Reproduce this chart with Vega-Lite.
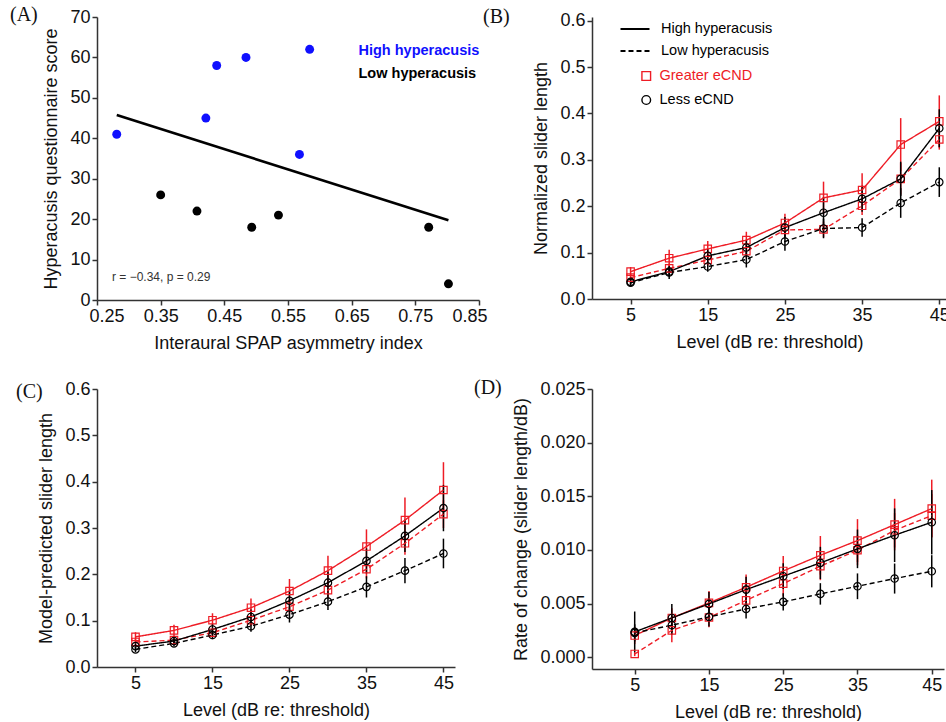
{
"$schema": "https://vega.github.io/schema/vega-lite/v6.json",
"padding": {"left": 10, "top": 5, "right": 0, "bottom": 0},
"background": "white",
"config": {
  "view": {"stroke": null},
  "font": "Liberation Sans",
  "axis": {"labelFont": "Liberation Sans", "titleFont": "Liberation Sans", "labelFontSize": 18, "titleFontSize": 18, "titleFontWeight": "normal", "labelColor": "#111", "titleColor": "#111", "domainColor": "#333", "tickColor": "#333", "domainWidth": 1.5, "tickWidth": 1.5, "tickSize": 5, "grid": false, "labelPadding": 2, "titlePadding": 9},
  "title": {"font": "Liberation Serif", "fontSize": 20, "fontWeight": "normal", "anchor": "start", "frame": "group", "color": "#111"},
  "legend": {"labelFont": "Liberation Sans", "labelFontSize": 14.5, "padding": 0, "title": null}
},
"datasets": {
  "scatter": [
    {"x": 0.281, "y": 41, "grp": "High hyperacusis"},
    {"x": 0.421, "y": 45, "grp": "High hyperacusis"},
    {"x": 0.438, "y": 58, "grp": "High hyperacusis"},
    {"x": 0.484, "y": 60, "grp": "High hyperacusis"},
    {"x": 0.584, "y": 62, "grp": "High hyperacusis"},
    {"x": 0.568, "y": 36, "grp": "High hyperacusis"},
    {"x": 0.350, "y": 26, "grp": "Low hyperacusis"},
    {"x": 0.407, "y": 22, "grp": "Low hyperacusis"},
    {"x": 0.493, "y": 18, "grp": "Low hyperacusis"},
    {"x": 0.535, "y": 21, "grp": "Low hyperacusis"},
    {"x": 0.771, "y": 18, "grp": "Low hyperacusis"},
    {"x": 0.802, "y": 4, "grp": "Low hyperacusis"}
  ],
  "note": [
    {"t": "r = −0.34, p = 0.29"}
  ],
  "curves": [
    {"p":"B","L":5,"h":"High hyperacusis","g":"Greater eCND","v":0.059,"lo":0.049,"hi":0.069},
    {"p":"B","L":10,"h":"High hyperacusis","g":"Greater eCND","v":0.088,"lo":0.070,"hi":0.106},
    {"p":"B","L":15,"h":"High hyperacusis","g":"Greater eCND","v":0.108,"lo":0.091,"hi":0.125},
    {"p":"B","L":20,"h":"High hyperacusis","g":"Greater eCND","v":0.127,"lo":0.109,"hi":0.145},
    {"p":"B","L":25,"h":"High hyperacusis","g":"Greater eCND","v":0.164,"lo":0.144,"hi":0.184},
    {"p":"B","L":30,"h":"High hyperacusis","g":"Greater eCND","v":0.218,"lo":0.183,"hi":0.253},
    {"p":"B","L":35,"h":"High hyperacusis","g":"Greater eCND","v":0.235,"lo":0.199,"hi":0.271},
    {"p":"B","L":40,"h":"High hyperacusis","g":"Greater eCND","v":0.333,"lo":0.276,"hi":0.390},
    {"p":"B","L":45,"h":"High hyperacusis","g":"Greater eCND","v":0.383,"lo":0.327,"hi":0.439},
    {"p":"B","L":5,"h":"Low hyperacusis","g":"Greater eCND","v":0.046,"lo":0.038,"hi":0.054},
    {"p":"B","L":10,"h":"Low hyperacusis","g":"Greater eCND","v":0.066,"lo":0.056,"hi":0.076},
    {"p":"B","L":15,"h":"Low hyperacusis","g":"Greater eCND","v":0.084,"lo":0.072,"hi":0.096},
    {"p":"B","L":20,"h":"Low hyperacusis","g":"Greater eCND","v":0.103,"lo":0.089,"hi":0.117},
    {"p":"B","L":25,"h":"Low hyperacusis","g":"Greater eCND","v":0.149,"lo":0.134,"hi":0.164},
    {"p":"B","L":30,"h":"Low hyperacusis","g":"Greater eCND","v":0.150,"lo":0.133,"hi":0.167},
    {"p":"B","L":35,"h":"Low hyperacusis","g":"Greater eCND","v":0.201,"lo":0.181,"hi":0.221},
    {"p":"B","L":40,"h":"Low hyperacusis","g":"Greater eCND","v":0.259,"lo":0.225,"hi":0.293},
    {"p":"B","L":45,"h":"Low hyperacusis","g":"Greater eCND","v":0.344,"lo":0.322,"hi":0.366},
    {"p":"B","L":5,"h":"High hyperacusis","g":"Less eCND","v":0.037,"lo":0.031,"hi":0.043},
    {"p":"B","L":10,"h":"High hyperacusis","g":"Less eCND","v":0.059,"lo":0.049,"hi":0.069},
    {"p":"B","L":15,"h":"High hyperacusis","g":"Less eCND","v":0.093,"lo":0.078,"hi":0.108},
    {"p":"B","L":20,"h":"High hyperacusis","g":"Less eCND","v":0.111,"lo":0.095,"hi":0.127},
    {"p":"B","L":25,"h":"High hyperacusis","g":"Less eCND","v":0.154,"lo":0.131,"hi":0.177},
    {"p":"B","L":30,"h":"High hyperacusis","g":"Less eCND","v":0.186,"lo":0.152,"hi":0.220},
    {"p":"B","L":35,"h":"High hyperacusis","g":"Less eCND","v":0.216,"lo":0.188,"hi":0.244},
    {"p":"B","L":40,"h":"High hyperacusis","g":"Less eCND","v":0.259,"lo":0.222,"hi":0.296},
    {"p":"B","L":45,"h":"High hyperacusis","g":"Less eCND","v":0.368,"lo":0.327,"hi":0.409},
    {"p":"B","L":5,"h":"Low hyperacusis","g":"Less eCND","v":0.035,"lo":0.030,"hi":0.040},
    {"p":"B","L":10,"h":"Low hyperacusis","g":"Less eCND","v":0.057,"lo":0.043,"hi":0.071},
    {"p":"B","L":15,"h":"Low hyperacusis","g":"Less eCND","v":0.070,"lo":0.059,"hi":0.081},
    {"p":"B","L":20,"h":"Low hyperacusis","g":"Less eCND","v":0.085,"lo":0.068,"hi":0.102},
    {"p":"B","L":25,"h":"Low hyperacusis","g":"Less eCND","v":0.124,"lo":0.104,"hi":0.144},
    {"p":"B","L":30,"h":"Low hyperacusis","g":"Less eCND","v":0.152,"lo":0.131,"hi":0.173},
    {"p":"B","L":35,"h":"Low hyperacusis","g":"Less eCND","v":0.154,"lo":0.134,"hi":0.174},
    {"p":"B","L":40,"h":"Low hyperacusis","g":"Less eCND","v":0.207,"lo":0.175,"hi":0.239},
    {"p":"B","L":45,"h":"Low hyperacusis","g":"Less eCND","v":0.252,"lo":0.220,"hi":0.284},

    {"p":"C","L":5,"h":"High hyperacusis","g":"Greater eCND","v":0.065,"lo":0.055,"hi":0.075},
    {"p":"C","L":10,"h":"High hyperacusis","g":"Greater eCND","v":0.079,"lo":0.067,"hi":0.091},
    {"p":"C","L":15,"h":"High hyperacusis","g":"Greater eCND","v":0.101,"lo":0.086,"hi":0.116},
    {"p":"C","L":20,"h":"High hyperacusis","g":"Greater eCND","v":0.128,"lo":0.108,"hi":0.148},
    {"p":"C","L":25,"h":"High hyperacusis","g":"Greater eCND","v":0.164,"lo":0.138,"hi":0.190},
    {"p":"C","L":30,"h":"High hyperacusis","g":"Greater eCND","v":0.208,"lo":0.176,"hi":0.240},
    {"p":"C","L":35,"h":"High hyperacusis","g":"Greater eCND","v":0.260,"lo":0.223,"hi":0.297},
    {"p":"C","L":40,"h":"High hyperacusis","g":"Greater eCND","v":0.317,"lo":0.268,"hi":0.366},
    {"p":"C","L":45,"h":"High hyperacusis","g":"Greater eCND","v":0.382,"lo":0.322,"hi":0.442},
    {"p":"C","L":5,"h":"Low hyperacusis","g":"Greater eCND","v":0.054,"lo":0.047,"hi":0.061},
    {"p":"C","L":10,"h":"Low hyperacusis","g":"Greater eCND","v":0.058,"lo":0.050,"hi":0.066},
    {"p":"C","L":15,"h":"Low hyperacusis","g":"Greater eCND","v":0.074,"lo":0.064,"hi":0.084},
    {"p":"C","L":20,"h":"Low hyperacusis","g":"Greater eCND","v":0.101,"lo":0.088,"hi":0.114},
    {"p":"C","L":25,"h":"Low hyperacusis","g":"Greater eCND","v":0.130,"lo":0.114,"hi":0.146},
    {"p":"C","L":30,"h":"Low hyperacusis","g":"Greater eCND","v":0.166,"lo":0.148,"hi":0.184},
    {"p":"C","L":35,"h":"Low hyperacusis","g":"Greater eCND","v":0.211,"lo":0.191,"hi":0.231},
    {"p":"C","L":40,"h":"Low hyperacusis","g":"Greater eCND","v":0.267,"lo":0.242,"hi":0.292},
    {"p":"C","L":45,"h":"Low hyperacusis","g":"Greater eCND","v":0.330,"lo":0.300,"hi":0.360},
    {"p":"C","L":5,"h":"High hyperacusis","g":"Less eCND","v":0.045,"lo":0.039,"hi":0.051},
    {"p":"C","L":10,"h":"High hyperacusis","g":"Less eCND","v":0.056,"lo":0.048,"hi":0.064},
    {"p":"C","L":15,"h":"High hyperacusis","g":"Less eCND","v":0.081,"lo":0.069,"hi":0.093},
    {"p":"C","L":20,"h":"High hyperacusis","g":"Less eCND","v":0.108,"lo":0.092,"hi":0.124},
    {"p":"C","L":25,"h":"High hyperacusis","g":"Less eCND","v":0.143,"lo":0.123,"hi":0.163},
    {"p":"C","L":30,"h":"High hyperacusis","g":"Less eCND","v":0.182,"lo":0.158,"hi":0.206},
    {"p":"C","L":35,"h":"High hyperacusis","g":"Less eCND","v":0.229,"lo":0.202,"hi":0.256},
    {"p":"C","L":40,"h":"High hyperacusis","g":"Less eCND","v":0.283,"lo":0.248,"hi":0.318},
    {"p":"C","L":45,"h":"High hyperacusis","g":"Less eCND","v":0.343,"lo":0.293,"hi":0.393},
    {"p":"C","L":5,"h":"Low hyperacusis","g":"Less eCND","v":0.038,"lo":0.032,"hi":0.044},
    {"p":"C","L":10,"h":"Low hyperacusis","g":"Less eCND","v":0.051,"lo":0.044,"hi":0.058},
    {"p":"C","L":15,"h":"Low hyperacusis","g":"Less eCND","v":0.069,"lo":0.060,"hi":0.078},
    {"p":"C","L":20,"h":"Low hyperacusis","g":"Less eCND","v":0.088,"lo":0.076,"hi":0.100},
    {"p":"C","L":25,"h":"Low hyperacusis","g":"Less eCND","v":0.113,"lo":0.096,"hi":0.130},
    {"p":"C","L":30,"h":"Low hyperacusis","g":"Less eCND","v":0.141,"lo":0.123,"hi":0.159},
    {"p":"C","L":35,"h":"Low hyperacusis","g":"Less eCND","v":0.173,"lo":0.150,"hi":0.196},
    {"p":"C","L":40,"h":"Low hyperacusis","g":"Less eCND","v":0.208,"lo":0.181,"hi":0.235},
    {"p":"C","L":45,"h":"Low hyperacusis","g":"Less eCND","v":0.245,"lo":0.213,"hi":0.277},

    {"p":"D","L":5,"h":"High hyperacusis","g":"Greater eCND","v":0.00202,"lo":0.00122,"hi":0.00282},
    {"p":"D","L":10,"h":"High hyperacusis","g":"Greater eCND","v":0.00366,"lo":0.00276,"hi":0.00456},
    {"p":"D","L":15,"h":"High hyperacusis","g":"Greater eCND","v":0.00506,"lo":0.00396,"hi":0.00616},
    {"p":"D","L":20,"h":"High hyperacusis","g":"Greater eCND","v":0.00652,"lo":0.00532,"hi":0.00772},
    {"p":"D","L":25,"h":"High hyperacusis","g":"Greater eCND","v":0.00804,"lo":0.00664,"hi":0.00944},
    {"p":"D","L":30,"h":"High hyperacusis","g":"Greater eCND","v":0.0095,"lo":0.0077,"hi":0.0113},
    {"p":"D","L":35,"h":"High hyperacusis","g":"Greater eCND","v":0.01087,"lo":0.00887,"hi":0.01287},
    {"p":"D","L":40,"h":"High hyperacusis","g":"Greater eCND","v":0.01236,"lo":0.00996,"hi":0.01476},
    {"p":"D","L":45,"h":"High hyperacusis","g":"Greater eCND","v":0.01385,"lo":0.01115,"hi":0.01655},
    {"p":"D","L":5,"h":"Low hyperacusis","g":"Greater eCND","v":0.0003,"lo":0.0001,"hi":0.0005},
    {"p":"D","L":10,"h":"Low hyperacusis","g":"Greater eCND","v":0.0025,"lo":0.0014,"hi":0.0036},
    {"p":"D","L":15,"h":"Low hyperacusis","g":"Greater eCND","v":0.0037,"lo":0.0028,"hi":0.0046},
    {"p":"D","L":20,"h":"Low hyperacusis","g":"Greater eCND","v":0.0053,"lo":0.0043,"hi":0.0063},
    {"p":"D","L":25,"h":"Low hyperacusis","g":"Greater eCND","v":0.00686,"lo":0.00566,"hi":0.00806},
    {"p":"D","L":30,"h":"Low hyperacusis","g":"Greater eCND","v":0.00848,"lo":0.00718,"hi":0.00978},
    {"p":"D","L":35,"h":"Low hyperacusis","g":"Greater eCND","v":0.00997,"lo":0.00857,"hi":0.01137},
    {"p":"D","L":40,"h":"Low hyperacusis","g":"Greater eCND","v":0.01183,"lo":0.01023,"hi":0.01343},
    {"p":"D","L":45,"h":"Low hyperacusis","g":"Greater eCND","v":0.0132,"lo":0.0112,"hi":0.0152},
    {"p":"D","L":5,"h":"High hyperacusis","g":"Less eCND","v":0.00236,"lo":0.00046,"hi":0.00426},
    {"p":"D","L":10,"h":"High hyperacusis","g":"Less eCND","v":0.00366,"lo":0.00236,"hi":0.00496},
    {"p":"D","L":15,"h":"High hyperacusis","g":"Less eCND","v":0.00497,"lo":0.00387,"hi":0.00607},
    {"p":"D","L":20,"h":"High hyperacusis","g":"Less eCND","v":0.0063,"lo":0.0051,"hi":0.0075},
    {"p":"D","L":25,"h":"High hyperacusis","g":"Less eCND","v":0.00755,"lo":0.00635,"hi":0.00875},
    {"p":"D","L":30,"h":"High hyperacusis","g":"Less eCND","v":0.00879,"lo":0.00729,"hi":0.01029},
    {"p":"D","L":35,"h":"High hyperacusis","g":"Less eCND","v":0.0101,"lo":0.0083,"hi":0.0119},
    {"p":"D","L":40,"h":"High hyperacusis","g":"Less eCND","v":0.01137,"lo":0.00887,"hi":0.01387},
    {"p":"D","L":45,"h":"High hyperacusis","g":"Less eCND","v":0.01258,"lo":0.00958,"hi":0.01558},
    {"p":"D","L":5,"h":"Low hyperacusis","g":"Less eCND","v":0.00227,"lo":0.00147,"hi":0.00307},
    {"p":"D","L":10,"h":"Low hyperacusis","g":"Less eCND","v":0.00298,"lo":0.00208,"hi":0.00388},
    {"p":"D","L":15,"h":"Low hyperacusis","g":"Less eCND","v":0.00376,"lo":0.00286,"hi":0.00466},
    {"p":"D","L":20,"h":"Low hyperacusis","g":"Less eCND","v":0.0045,"lo":0.0036,"hi":0.0054},
    {"p":"D","L":25,"h":"Low hyperacusis","g":"Less eCND","v":0.00516,"lo":0.00436,"hi":0.00596},
    {"p":"D","L":30,"h":"Low hyperacusis","g":"Less eCND","v":0.0059,"lo":0.0049,"hi":0.0069},
    {"p":"D","L":35,"h":"Low hyperacusis","g":"Less eCND","v":0.00661,"lo":0.00541,"hi":0.00781},
    {"p":"D","L":40,"h":"Low hyperacusis","g":"Less eCND","v":0.00733,"lo":0.00593,"hi":0.00873},
    {"p":"D","L":45,"h":"Low hyperacusis","g":"Less eCND","v":0.00801,"lo":0.00651,"hi":0.00951}
  ]
},
"columns": 2,
"bounds": "flush",
"spacing": {"row": 89, "column": 113},
"resolve": {"scale": {"color": "independent", "stroke": "independent", "shape": "independent", "strokeDash": "independent"}, "legend": {"color": "independent", "stroke": "independent", "shape": "independent", "strokeDash": "independent"}},
"concat": [
  {
    "width": 382, "height": 283,
    "title": {"text": "(A)", "dx": -87, "dy": 21},
    "layer": [
      {
        "data": {"name": "scatter"},
        "mark": {"type": "line", "color": "black", "strokeWidth": 2.6},
        "transform": [{"regression": "y", "on": "x"}],
        "encoding": {
          "x": {"field": "x", "type": "quantitative"},
          "y": {"field": "y", "type": "quantitative"}
        }
      },
      {
        "data": {"name": "scatter"},
        "mark": {"type": "point", "filled": true, "size": 80, "opacity": 1},
        "encoding": {
          "x": {"field": "x", "type": "quantitative", "title": "Interaural SPAP asymmetry index", "scale": {"domain": [0.25, 0.85], "nice": false, "zero": false}, "axis": {"values": [0.25, 0.35, 0.45, 0.55, 0.65, 0.75, 0.85], "format": ".2f", "labelFlushOffset": 8}},
          "y": {"field": "y", "type": "quantitative", "title": "Hyperacusis questionnaire score", "scale": {"domain": [0, 70], "nice": false}, "axis": {"values": [0, 10, 20, 30, 40, 50, 60, 70]}},
          "color": {"field": "grp", "type": "nominal", "scale": {"domain": ["High hyperacusis", "Low hyperacusis"], "range": ["#1010ff", "#000000"]},
            "legend": {"orient": "none", "legendX": 247, "legendY": 27, "symbolSize": 0, "symbolOpacity": 0, "symbolStrokeWidth": 0, "labelOffset": 0, "labelFontWeight": "bold", "labelFontSize": 14.5, "rowPadding": 8, "labelColor": {"expr": "datum.label === 'High hyperacusis' ? '#1010ff' : '#000000'"}}}
        }
      },
      {
        "data": {"name": "note"},
        "mark": {"type": "text", "align": "left", "baseline": "middle", "fontSize": 12, "fontWeight": "normal", "color": "#333"},
        "encoding": {
          "x": {"datum": 0.2735},
          "y": {"datum": 5.8},
          "text": {"field": "t"}
        }
      }
    ]
  },
  {
    "width": 355, "height": 282,
    "title": {"text": "(B)", "dx": -109, "dy": 19},
    "data": {"name": "curves"},
    "transform": [{"filter": "datum.p === 'B'"}],
    "encoding": {
      "x": {"field": "L", "type": "quantitative", "title": "Level (dB re: threshold)", "scale": {"domain": [0, 46], "nice": false, "zero": false}, "axis": {"values": [5, 15, 25, 35, 45], "labelFlush": false}},
      "y": {"field": "v", "type": "quantitative", "title": "Normalized slider length", "scale": {"domain": [0, 0.608], "nice": false, "zero": false}, "axis": {"values": [0, 0.1, 0.2, 0.3, 0.4, 0.5, 0.6], "format": ".1f"}}
    },
    "layer": [
      {
        "mark": {"type": "rule", "strokeWidth": 1.5},
        "encoding": {
          "y": {"field": "lo", "type": "quantitative", "title": "Normalized slider length"},
          "y2": {"field": "hi"},
          "stroke": {"field": "g", "type": "nominal", "scale": {"domain": ["Less eCND", "Greater eCND"], "range": ["#000000", "#ee1c25"]}, "legend": null}
        }
      },
      {
        "mark": {"type": "line", "strokeWidth": 1.4},
        "encoding": {
          "stroke": {"field": "g", "type": "nominal", "legend": null},
          "strokeDash": {"field": "h", "type": "nominal", "scale": {"domain": ["High hyperacusis", "Low hyperacusis"], "range": [[1, 0], [5, 3]]},
            "legend": {"orient": "none", "legendX": 27, "legendY": 2, "symbolType": "stroke", "symbolSize": 841, "symbolStrokeColor": "black", "symbolStrokeWidth": 2.2, "labelOffset": 10, "clipHeight": 20, "rowPadding": 2}}
        }
      },
      {
        "mark": {"type": "point", "filled": false, "size": 55, "strokeWidth": 1.2, "opacity": 1},
        "encoding": {
          "color": {"field": "g", "type": "nominal", "scale": {"domain": ["Greater eCND", "Less eCND"], "range": ["#ee1c25", "#000000"]},
            "legend": {"orient": "none", "legendX": 47, "legendY": 51, "symbolSize": 75, "symbolStrokeWidth": 1.4, "labelOffset": 6, "clipHeight": 16, "rowPadding": 8, "labelColor": {"expr": "datum.label === 'Greater eCND' ? '#ee1c25' : '#000000'"}}},
          "shape": {"field": "g", "type": "nominal", "scale": {"domain": ["Greater eCND", "Less eCND"], "range": ["square", "circle"]},
            "legend": {"orient": "none", "legendX": 47, "legendY": 51, "symbolSize": 75, "symbolStrokeWidth": 1.4, "labelOffset": 6, "clipHeight": 16, "rowPadding": 8, "labelColor": {"expr": "datum.label === 'Greater eCND' ? '#ee1c25' : '#000000'"}}}
        }
      }
    ]
  },
  {
    "width": 358, "height": 278,
    "title": {"text": "(C)", "dx": -81, "dy": 26},
    "data": {"name": "curves"},
    "transform": [{"filter": "datum.p === 'C'"}],
    "encoding": {
      "x": {"field": "L", "type": "quantitative", "title": "Level (dB re: threshold)", "scale": {"domain": [0, 46.5], "nice": false, "zero": false}, "axis": {"values": [5, 15, 25, 35, 45], "labelFlush": false}},
      "y": {"field": "v", "type": "quantitative", "title": "Model-predicted slider length", "scale": {"domain": [0, 0.6], "nice": false, "zero": false}, "axis": {"values": [0, 0.1, 0.2, 0.3, 0.4, 0.5, 0.6], "format": ".1f"}}
    },
    "layer": [
      {
        "mark": {"type": "rule", "strokeWidth": 1.5},
        "encoding": {
          "y": {"field": "lo", "type": "quantitative", "title": "Model-predicted slider length"},
          "y2": {"field": "hi"},
          "stroke": {"field": "g", "type": "nominal", "scale": {"domain": ["Less eCND", "Greater eCND"], "range": ["#000000", "#ee1c25"]}, "legend": null}
        }
      },
      {
        "mark": {"type": "line", "strokeWidth": 1.4},
        "encoding": {
          "stroke": {"field": "g", "type": "nominal", "legend": null},
          "strokeDash": {"field": "h", "type": "nominal", "scale": {"domain": ["High hyperacusis", "Low hyperacusis"], "range": [[1, 0], [5, 3]]}, "legend": null}
        }
      },
      {
        "mark": {"type": "point", "filled": false, "size": 55, "strokeWidth": 1.2, "opacity": 1},
        "encoding": {
          "color": {"field": "g", "type": "nominal", "scale": {"domain": ["Greater eCND", "Less eCND"], "range": ["#ee1c25", "#000000"]}, "legend": null},
          "shape": {"field": "g", "type": "nominal", "scale": {"domain": ["Greater eCND", "Less eCND"], "range": ["square", "circle"]}, "legend": null}
        }
      }
    ]
  },
  {
    "width": 352, "height": 280,
    "title": {"text": "(D)", "dx": -118, "dy": 22},
    "data": {"name": "curves"},
    "transform": [{"filter": "datum.p === 'D'"}],
    "encoding": {
      "x": {"field": "L", "type": "quantitative", "title": "Level (dB re: threshold)", "scale": {"domain": [-0.75, 46.65], "nice": false, "zero": false}, "axis": {"values": [5, 15, 25, 35, 45], "labelFlush": false}},
      "y": {"field": "v", "type": "quantitative", "title": "Rate of change (slider length/dB)", "scale": {"domain": [-0.0011, 0.025], "nice": false, "zero": false}, "axis": {"values": [0, 0.005, 0.01, 0.015, 0.02, 0.025], "format": ".3f"}}
    },
    "layer": [
      {
        "mark": {"type": "rule", "strokeWidth": 1.5},
        "encoding": {
          "y": {"field": "lo", "type": "quantitative", "title": "Rate of change (slider length/dB)"},
          "y2": {"field": "hi"},
          "stroke": {"field": "g", "type": "nominal", "scale": {"domain": ["Less eCND", "Greater eCND"], "range": ["#000000", "#ee1c25"]}, "legend": null}
        }
      },
      {
        "mark": {"type": "line", "strokeWidth": 1.4},
        "encoding": {
          "stroke": {"field": "g", "type": "nominal", "legend": null},
          "strokeDash": {"field": "h", "type": "nominal", "scale": {"domain": ["High hyperacusis", "Low hyperacusis"], "range": [[1, 0], [5, 3]]}, "legend": null}
        }
      },
      {
        "mark": {"type": "point", "filled": false, "size": 55, "strokeWidth": 1.2, "opacity": 1},
        "encoding": {
          "color": {"field": "g", "type": "nominal", "scale": {"domain": ["Greater eCND", "Less eCND"], "range": ["#ee1c25", "#000000"]}, "legend": null},
          "shape": {"field": "g", "type": "nominal", "scale": {"domain": ["Greater eCND", "Less eCND"], "range": ["square", "circle"]}, "legend": null}
        }
      }
    ]
  }
]
}
